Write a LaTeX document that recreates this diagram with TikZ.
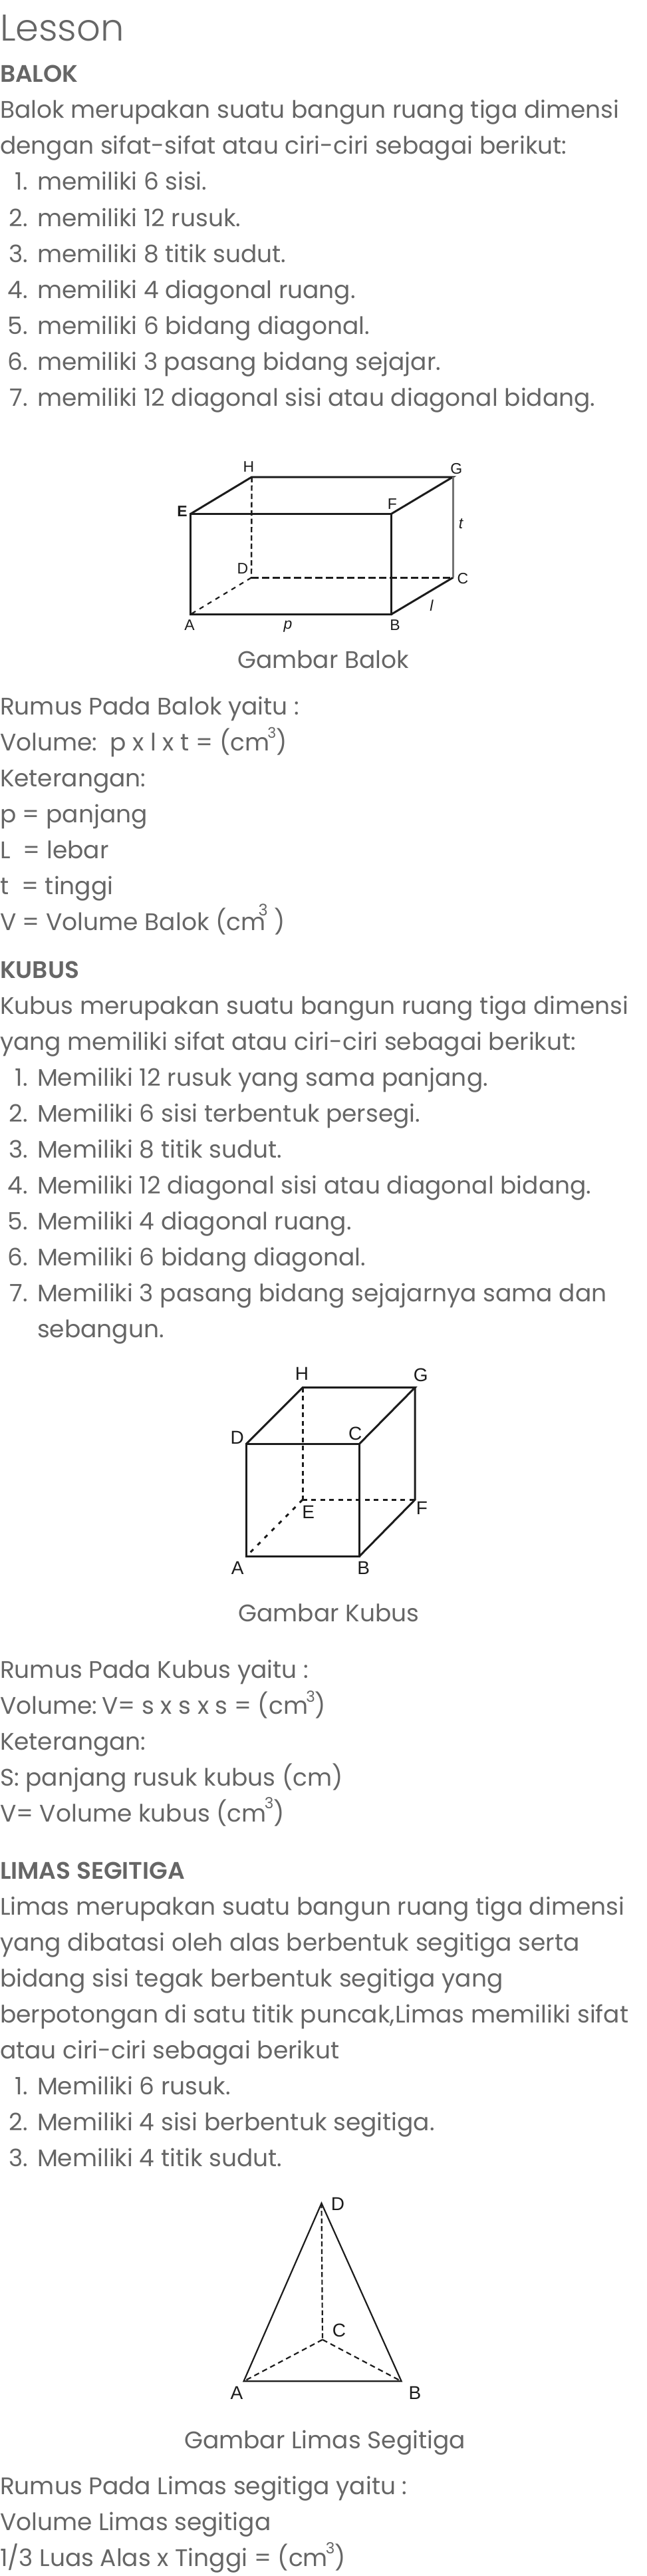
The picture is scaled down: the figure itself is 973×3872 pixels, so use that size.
\documentclass[tikz,border=0pt]{standalone}
\usepackage{fontspec}
\setmainfont{Poppins}
\newfontfamily\plight{Poppins Light}
\newfontfamily\pbold{Poppins SemiBold}
\newfontfamily\lab{Liberation Sans}
\definecolor{tcol}{HTML}{666666}
\definecolor{lcol}{HTML}{1C1C1C}
\newcommand{\supthree}[3]{\kern#1pt\raisebox{#2pt}{\fontsize{#3}{#3}\selectfont 3}}
\tikzset{
  txt/.style={anchor=base west,inner sep=0pt,outer sep=0pt,text=tcol,font=\fontsize{36}{40}\selectfont},
  num/.style={anchor=base east,inner sep=0pt,outer sep=0pt,text=tcol,font=\fontsize{36}{40}\selectfont},
  head/.style={anchor=base west,inner sep=0pt,outer sep=0pt,text=tcol,font=\pbold\fontsize{36}{40}\selectfont},
  capt/.style={anchor=base,inner sep=0pt,outer sep=0pt,text=tcol,font=\fontsize{36}{40}\selectfont},
  lbl/.style={inner sep=0pt,outer sep=0pt,text=lcol,font=\lab\fontsize{23}{25}\selectfont},
  lblb/.style={lbl,font=\lab\fontsize{28}{30}\selectfont},
  edge/.style={draw=lcol,line width=3pt,line cap=round},
  thin edge/.style={draw=lcol,line width=2.2pt,line cap=round},
}
\begin{document}
\begin{tikzpicture}[x=1pt,y=-1pt]
\path[use as bounding box,fill=white] (0,0) rectangle (973,3872);
% --- Balok text
\node[txt,font=\plight\fontsize{56}{60}\selectfont] (t0) at (0,62) {Lesson};
\node[head] (t1) at (0,124) {BALOK};
\node[txt] (t2) at (0,178) {Balok merupakan suatu bangun ruang tiga dimensi};
\node[txt] (t3) at (0,232) {dengan sifat-sifat atau ciri-ciri sebagai berikut:};
\node[num] (n1) at (42,286) {1.}; \node[txt] (l1) at (56,286) {memiliki 6 sisi.};
\node[num] (n2) at (42,340) {2.}; \node[txt] (l2) at (56,340) {memiliki 12 rusuk.};
\node[num] (n3) at (42,394) {3.}; \node[txt] (l3) at (56,394) {memiliki 8 titik sudut.};
\node[num] (n4) at (42,448) {4.}; \node[txt] (l4) at (56,448) {memiliki 4 diagonal ruang.};
\node[num] (n5) at (42,502) {5.}; \node[txt] (l5) at (56,502) {memiliki 6 bidang diagonal.};
\node[num] (n6) at (42,556) {6.}; \node[txt] (l6) at (56,556) {memiliki 3 pasang bidang sejajar.};
\node[num] (n7) at (42,610) {7.}; \node[txt] (l7) at (56,610) {memiliki 12 diagonal sisi atau diagonal bidang.};
% --- Balok figure
\coordinate (bA) at (286.8,923.3); \coordinate (bB) at (588.6,923.3);
\coordinate (bC) at (681,868.3);   \coordinate (bD) at (378,868.3);
\coordinate (bE) at (286.8,772.3); \coordinate (bF) at (588.6,772.3);
\coordinate (bG) at (681,717);     \coordinate (bH) at (378.6,717);
\draw[lcol,line width=2.4pt,dash pattern=on 8pt off 4.5pt] (bH) -- (bD);
\draw[lcol,line width=2.6pt,dash pattern=on 11pt off 5pt] (bD) -- (bC);
\draw[lcol,line width=2.2pt,dash pattern=on 7pt off 7pt] (bD) -- (bA);
\draw[edge] (bA) -- (bB) -- (bF) -- (bE) -- cycle;
\draw[edge] (bE) -- (bH) -- (bG) -- (bF);
\draw[edge] (bB) -- (bC);
\draw[draw=black!55,line width=3pt] (bG) -- (bC);
\node[lbl] (bHl) at (374,701.7) {H};
\node[lbl] (bGl) at (686.4,705) {G};
\node[lbl,font=\lab\bfseries\fontsize{23}{25}\selectfont] (bEl) at (274,768.3) {E};
\node[lbl] (bFl) at (590,757.7) {F};
\node[lbl] (bDl) at (365,855) {D};
\node[lbl] (bCl) at (696,870) {C};
\node[lbl] (bAl) at (285,939.3) {A};
\node[lbl] (bBl) at (594,940) {B};
\node[lbl,font=\lab\itshape\fontsize{23}{25}\selectfont] (bpl) at (433,942) {p};
\node[lbl,font=\lab\itshape\fontsize{23}{25}\selectfont] (bll) at (649,910) {l};
\node[lbl,font=\lab\itshape\fontsize{23}{25}\selectfont] (btl) at (693,786.7) {t};
\node[capt] (c1) at (486,1004) {Gambar Balok};
% --- Balok formulas
\node[txt] (r1) at (0,1074.3) {Rumus Pada Balok yaitu :};
\node[txt] (r2) at (0,1128.3) {Volume:\ \ p x l x t = (cm\supthree{-3}{19}{22})};
\node[txt] (r3) at (0,1182.3) {Keterangan:};
\node[txt] (r4) at (0,1236.3) {p = panjang};
\node[txt] (r5) at (0,1290.3) {L\ \ = lebar};
\node[txt] (r6) at (0,1344.3) {t\ \ = tinggi};
\node[txt] (r7) at (0,1398.3) {V = Volume Balok (cm\supthree{-11}{21.7}{24}\ )};
% --- Kubus text
\node[head] (k1) at (0,1470) {KUBUS};
\node[txt] (k2) at (0,1524) {Kubus merupakan suatu bangun ruang tiga dimensi};
\node[txt] (k3) at (0,1578) {yang memiliki sifat atau ciri-ciri sebagai berikut:};
\node[num] (kn1) at (42,1632) {1.}; \node[txt] (kl1) at (56,1632) {Memiliki 12 rusuk yang sama panjang.};
\node[num] (kn2) at (42,1686) {2.}; \node[txt] (kl2) at (56,1686) {Memiliki 6 sisi terbentuk persegi.};
\node[num] (kn3) at (42,1740) {3.}; \node[txt] (kl3) at (56,1740) {Memiliki 8 titik sudut.};
\node[num] (kn4) at (42,1794) {4.}; \node[txt] (kl4) at (56,1794) {Memiliki 12 diagonal sisi atau diagonal bidang.};
\node[num] (kn5) at (42,1848) {5.}; \node[txt] (kl5) at (56,1848) {Memiliki 4 diagonal ruang.};
\node[num] (kn6) at (42,1902) {6.}; \node[txt] (kl6) at (56,1902) {Memiliki 6 bidang diagonal.};
\node[num] (kn7) at (42,1956) {7.}; \node[txt] (kl7) at (56,1956) {Memiliki 3 pasang bidang sejajarnya sama dan};
\node[txt] (kl8) at (56,2010) {sebangun.};
% --- Kubus figure
\coordinate (kA) at (370.7,2339); \coordinate (kB) at (540.7,2339);
\coordinate (kC) at (540.7,2170); \coordinate (kD) at (370.7,2170);
\coordinate (kE) at (455,2254.3); \coordinate (kF) at (624,2254.3);
\coordinate (kG) at (624,2085.7); \coordinate (kH) at (455,2085.7);
\draw[lcol,line width=3pt,dash pattern=on 7pt off 5.5pt] (kH) -- (kE);
\draw[lcol,line width=3pt,dash pattern=on 7pt off 6.4pt] (kE) -- (kF);
\draw[lcol,line width=3pt,dash pattern=on 6pt off 9pt] (kE) -- (kA);
\draw[edge] (kA) -- (kB) -- (kC) -- (kD) -- cycle;
\draw[edge] (kD) -- (kH) -- (kG) -- (kC);
\draw[edge] (kG) -- (kF) -- (kB);
\node[lblb] (kHl) at (454,2065) {H};
\node[lblb] (kGl) at (632.7,2066.7) {G};
\node[lblb] (kDl) at (356.7,2160.7) {D};
\node[lblb] (kCl) at (534.3,2155) {C};
\node[lblb] (kEl) at (463.7,2272.7) {E};
\node[lblb] (kFl) at (634.3,2267.3) {F};
\node[lblb] (kAl) at (357.3,2356.7) {A};
\node[lblb] (kBl) at (546.7,2356.7) {B};
\node[capt] (c2) at (494.5,2437.6) {Gambar Kubus};
% --- Kubus formulas
\node[txt] (s1) at (0,2522.7) {Rumus Pada Kubus yaitu :};
\node[txt] (s2) at (0,2576.7) {Volume:\kern-2.5pt\ V= s x s x s = (cm\supthree{-3}{18}{23})};
\node[txt] (s3) at (0,2630.7) {Keterangan:};
\node[txt] (s4) at (0,2684.5) {S: panjang rusuk kubus (cm)};
\node[txt] (s5) at (0,2738.5) {V= Volume kubus (cm\supthree{-3}{20}{23})};
% --- Limas text
\node[head] (m1) at (0,2824) {LIMAS SEGITIGA};
\node[txt] (m2) at (0,2878) {Limas merupakan suatu bangun ruang tiga dimensi};
\node[txt] (m3) at (0,2932) {yang dibatasi oleh alas berbentuk segitiga serta};
\node[txt] (m4) at (0,2986) {bidang sisi tegak berbentuk segitiga yang};
\node[txt] (m5) at (0,3040) {berpotongan di satu titik puncak,Limas memiliki sifat};
\node[txt] (m6) at (0,3094) {atau ciri-ciri sebagai berikut};
\node[num] (mn1) at (42,3148) {1.}; \node[txt] (ml1) at (56,3148) {Memiliki 6 rusuk.};
\node[num] (mn2) at (42,3202) {2.}; \node[txt] (ml2) at (56,3202) {Memiliki 4 sisi berbentuk segitiga.};
\node[num] (mn3) at (42,3256) {3.}; \node[txt] (ml3) at (56,3256) {Memiliki 4 titik sudut.};
% --- Limas figure
\coordinate (mA) at (366.5,3579.3); \coordinate (mB) at (603.7,3579.3);
\coordinate (mC) at (485,3516.7);   \coordinate (mD) at (483.5,3311.7);
\draw[lcol,line width=2.2pt,dash pattern=on 7.5pt off 4pt] (mD) -- (mC);
\draw[lcol,line width=2.2pt,dash pattern=on 8pt off 5.5pt] (mC) -- (mA);
\draw[lcol,line width=2.2pt,dash pattern=on 8pt off 5.5pt] (mC) -- (mB);
\draw[thin edge] (mA) -- (mD) -- (mB) -- cycle;
\node[lblb] (mDl) at (508,3313) {D};
\node[lblb] (mCl) at (510,3503) {C};
\node[lblb] (mAl) at (356,3597) {A};
\node[lblb] (mBl) at (624,3597) {B};
\node[capt] (c3) at (488.5,3680) {Gambar Limas Segitiga};
% --- Limas formulas
\node[txt] (u1) at (0,3749) {Rumus Pada Limas segitiga yaitu :};
\node[txt] (u2) at (0,3803) {Volume Limas segitiga};
\node[txt] (u3) at (0,3857) {1/3 Luas Alas x Tinggi = (cm\supthree{-3}{19}{23})};
\end{tikzpicture}
\end{document}
